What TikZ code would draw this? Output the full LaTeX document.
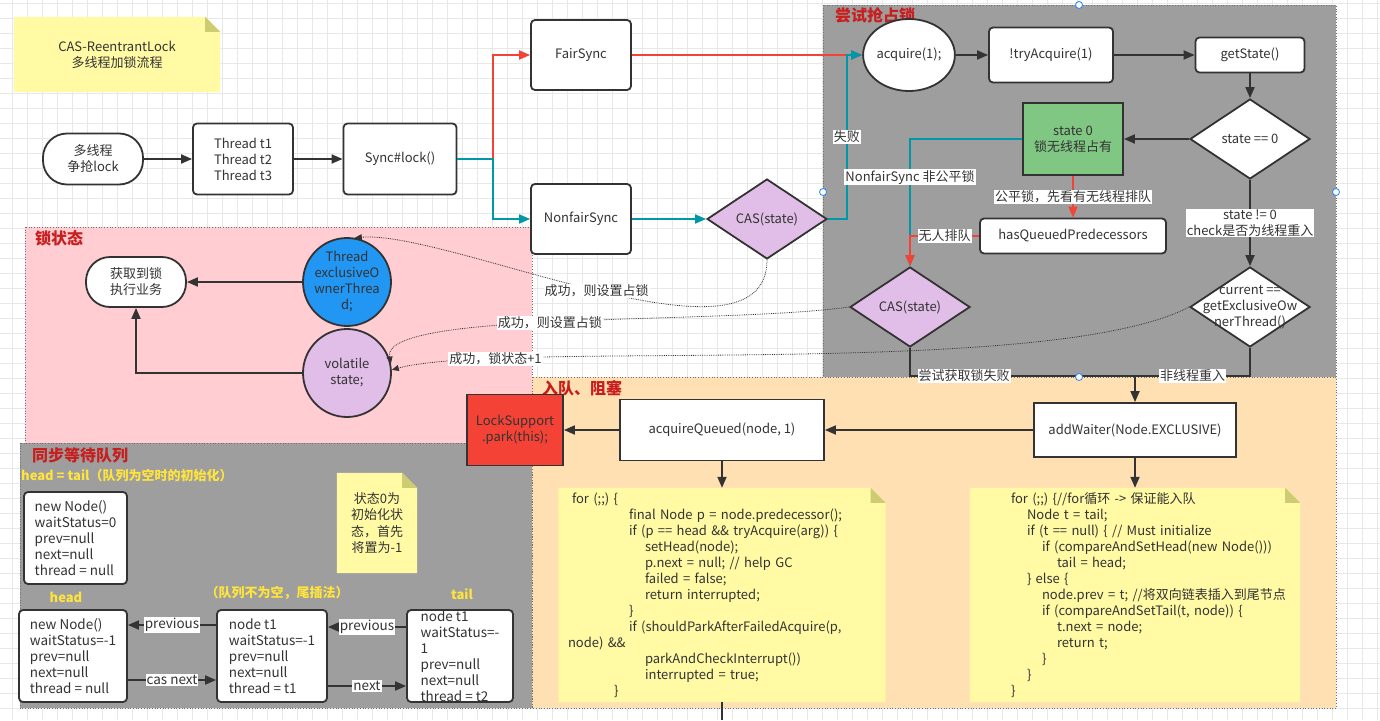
\documentclass[tikz,border=0pt]{standalone}
\usepackage{fontspec}
\setmainfont{Noto Sans CJK SC}
\usetikzlibrary{shapes.geometric, arrows.meta}

\definecolor{edge}{RGB}{51,51,51}
\definecolor{txt}{RGB}{51,51,51}
\definecolor{gridc}{RGB}{232,232,232}
\definecolor{grayc}{RGB}{158,158,158}
\definecolor{pinkc}{RGB}{255,205,210}
\definecolor{peachc}{RGB}{255,224,178}
\definecolor{notefill}{RGB}{255,250,163}
\definecolor{foldfill}{RGB}{206,204,112}
\definecolor{redline}{RGB}{244,67,54}
\definecolor{tealline}{RGB}{0,151,167}
\definecolor{greenbox}{RGB}{129,199,132}
\definecolor{purplebox}{RGB}{225,190,231}
\definecolor{bluebox}{RGB}{33,150,243}
\definecolor{titlered}{RGB}{200,30,30}
\definecolor{qyellow}{RGB}{255,228,60}
\definecolor{handle}{RGB}{41,128,255}

\pgfdeclarelayer{back}
\pgfdeclarelayer{bg}
\pgfsetlayers{back,bg,main}

\begin{document}
\begin{tikzpicture}[
  x=1pt, y=-1pt,
  font=\fontsize{13}{16}\selectfont, text=txt,
  process/.style={rectangle, draw=edge, line width=1.8pt, fill=white, align=center, inner sep=2pt},
  procr/.style={process, rounded corners=4pt},
  startstop/.style={process, rounded corners=24pt},
  decision/.style={diamond, draw=edge, line width=1.8pt, fill=white, minimum width=120pt,
    minimum height=80pt, inner sep=0pt, align=center},
  circ/.style={circle, draw=edge, line width=1.8pt, minimum size=88pt, inner sep=0pt, align=center},
  note/.style={rectangle, inner sep=0pt, align=center},
  codenote/.style={note, align=left},
  qnode/.style={procr, align=left, minimum height=92pt, font=\fontsize{13.5}{16}\selectfont},
  zone/.style={draw=edge!70, dotted, line width=0.7pt},
  zonetitle/.style={anchor=west, inner sep=0pt, text=titlered, font=\fontsize{16}{18}\selectfont\bfseries},
  lbl/.style={fill=white, inner sep=1pt},
  qlbl/.style={inner sep=0pt, text=qyellow, font=\fontsize{13}{16}\selectfont\bfseries},
  arrow/.style={-{Triangle[length=11pt, width=9pt]}, line width=1.8pt, draw=edge},
  link/.style={line width=1.8pt, draw=edge},
  dotarrow/.style={densely dotted, line width=0.8pt, draw=edge, -{Triangle[length=7pt, width=6pt]}}
]
\useasboundingbox (0,0) rectangle (1380,720);

% grid and zones
\begin{pgfonlayer}{back}
\fill[white] (0,0) rectangle (1380,720);
\foreach \x in {12,27,...,1380} \draw[gridc, line width=0.6pt] (\x,0) -- (\x,720);
\foreach \y in {3,18,...,720} \draw[gridc, line width=0.6pt] (0,\y) -- (1380,\y);
\filldraw[zone, fill=grayc] (823,5) rectangle (1336,377);
\filldraw[zone, fill=pinkc] (25,227) rectangle (532,443);
\filldraw[zone, fill=peachc] (532,377) rectangle (1336,708);
\filldraw[zone, fill=grayc] (20,443) rectangle (532,708);
\end{pgfonlayer}

\node (ttry) [zonetitle] at (835,15) {尝试抢占锁};
\node (tstate) [zonetitle] at (35,238) {锁状态};
\node (tqueue) [zonetitle] at (542,388) {入队、阻塞};
\node (twait) [zonetitle] at (32,455) {同步等待队列};

\node (title) [note, minimum width=206pt, minimum height=75pt] at (117,54.5) {CAS-ReentrantLock\\多线程加锁流程};

% entry
\node (start) [startstop, minimum width=100pt, minimum height=51pt] at (93,159) {多线程\\争抢lock};
\node (threads) [procr, minimum width=100pt, minimum height=71pt] at (243,159) {Thread t1\\Thread t2\\Thread t3};
\node (lock) [procr, minimum width=113pt, minimum height=71pt] at (400,159) {Sync\#lock()};
\coordinate (split) at (493,159);
\node (fair) [procr, minimum width=100pt, minimum height=70pt] at (581,55) {FairSync};
\node (nonfair) [procr, minimum width=100pt, minimum height=70pt] at (581,219) {NonfairSync};
\node (cas) [decision, fill=purplebox] at (767,219) {CAS(state)};

% try to take the lock
\node (acquire) [ellipse, draw=edge, line width=1.8pt, fill=white, minimum width=86pt,
  minimum height=72pt, inner sep=0pt] at (909,55) {acquire(1);};
\node (tryacq) [procr, minimum width=124pt, minimum height=55pt] at (1051,55) {!tryAcquire(1)};
\node (getstate) [procr, minimum width=109pt, minimum height=35pt] at (1250,55) {getState()};
\node (stzero) [decision] at (1250,139) {state == 0};
\node (free) [process, fill=greenbox, minimum width=100pt, minimum height=72pt] at (1073,139) {state 0\\锁无线程占有};
\node (hasq) [procr, minimum width=186pt, minimum height=35pt] at (1073,236) {hasQueuedPredecessors};
\node (cas2) [decision, fill=purplebox] at (910,307) {CAS(state)};
\node (owner) [decision, label={[align=center]center:current ==\\getExclusiveOw\\nerThread()}] at (1250,307) {};
\coordinate (merge) at (1135,376);

% lock state
\node (getlock) [startstop, minimum width=100pt, minimum height=50pt] at (136,282) {获取到锁\\执行业务};
\node (owth) [circ, fill=bluebox, label={[align=center]center:Thread\\exclusiveO\\wnerThrea\\d;}] at (347,282) {};
\node (vstate) [circ, fill=purplebox] at (347,373) {volatile\\state;};

% enqueue and block
\node (addw) [process, minimum width=202pt, minimum height=54pt] at (1135,430) {addWaiter(Node.EXCLUSIVE)};
\node (acqq) [process, minimum width=204pt, minimum height=61pt] at (722,430) {acquireQueued(node, 1)};
\node (park) [process, fill=redline, minimum width=96pt, minimum height=71pt] at (515,430) {LockSupport\\.park(this);};
\node (codeq) [codenote, text width=310pt, minimum width=327pt, minimum height=214pt] at (722,595) {%
\hspace*{5pt}for (;;) \{\\
\hspace*{62pt}final Node p = node.predecessor();\\
\hspace*{62pt}if (p == head \&\& tryAcquire(arg)) \{\\
\hspace*{78pt}setHead(node);\\
\hspace*{78pt}p.next = null; // help GC\\
\hspace*{78pt}failed = false;\\
\hspace*{78pt}return interrupted;\\
\hspace*{62pt}\}\\
\hspace*{62pt}if (shouldParkAfterFailedAcquire(p,\\
\hspace*{1pt}node) \&\&\\
\hspace*{78pt}parkAndCheckInterrupt())\\
\hspace*{78pt}interrupted = true;\\
\hspace*{47pt}\}};
\node (codew) [codenote, text width=324pt, minimum width=330pt, minimum height=214pt] at (1135,595) {%
\hspace*{38pt}for (;;) \{//for循环 -> 保证能入队\\
\hspace*{54pt}Node t = tail;\\
\hspace*{54pt}if (t == null) \{ // Must initialize\\
\hspace*{69pt}if (compareAndSetHead(new Node()))\\
\hspace*{84pt}tail = head;\\
\hspace*{54pt}\} else \{\\
\hspace*{69pt}node.prev = t; //将双向链表插入到尾节点\\
\hspace*{69pt}if (compareAndSetTail(t, node)) \{\\
\hspace*{84pt}t.next = node;\\
\hspace*{84pt}return t;\\
\hspace*{69pt}\}\\
\hspace*{54pt}\}\\
\hspace*{38pt}\}};
\coordinate (offpage) at (722,720);

% sync queue
\node (qempty) [qlbl, anchor=west] at (21,476) {head = tail（队列为空时的初始化）};
\node (qinit) [qnode, minimum width=103pt] at (75.5,538) {new Node()\\waitStatus=0\\prev=null\\next=null\\thread = null};
\node (hint) [note, minimum width=80pt, minimum height=100pt, font=\fontsize{13}{16.5}\selectfont] at (377,523) {状态0为\\初始化状\\态，首先\\将置为-1};
\node (qheadlbl) [qlbl] at (66,597) {head};
\node (qmid) [qlbl] at (277,593) {（队列不为空，尾插法）};
\node (qtaillbl) [qlbl] at (462,594) {tail};
\node (qhead) [qnode, minimum width=108pt] at (73,656) {new Node()\\waitStatus=-1\\prev=null\\next=null\\thread = null};
\node (qt1) [qnode, minimum width=110pt] at (272,656) {node t1\\waitStatus=-1\\prev=null\\next=null\\thread = t1};
\node (qtail) [qnode, minimum width=106pt, label={[align=left, font=\fontsize{13.5}{16}\selectfont]center:node t1\\waitStatus=-\\1\\prev=null\\next=null\\thread = t2}] at (460,656) {};

% note bodies with folded corner
\begin{pgfonlayer}{bg}
\foreach \n in {title,hint,codeq,codew} {
  \fill[notefill] (\n.south west) -- (\n.north west) -- ([xshift=-15pt]\n.north east)
    -- ([yshift=-15pt]\n.north east) -- (\n.south east) -- cycle;
  \fill[foldfill] ([xshift=-15pt]\n.north east) -- ([yshift=-15pt]\n.north east)
    -- ([xshift=-15pt, yshift=-15pt]\n.north east) -- cycle;
}
\end{pgfonlayer}

\draw [arrow] (start) -- (threads);
\draw [arrow] (threads) -- (lock);
\draw [arrow, draw=redline] (lock) -- (split) |- (fair);
\draw [arrow, draw=tealline] (lock) -- (split) |- (nonfair);
\draw [arrow, draw=tealline] (nonfair) -- (cas);
\draw [arrow, draw=redline] (fair) -- (acquire);
\draw [arrow, draw=tealline] (cas.east) -- ++(19,0) |- node[lbl, pos=0.25]{失败} (acquire.west);
\draw [arrow] (acquire) -- (tryacq);
\draw [arrow] (tryacq) -- (getstate);
\draw [arrow] (getstate) -- (stzero);
\draw [arrow] (stzero) -- (free);
\draw [arrow, draw=tealline] (free) -| node[lbl, pos=0.65]{NonfairSync 非公平锁} (cas2);
\draw [arrow, draw=redline] (free) -- node[lbl]{公平锁，先看有无线程排队} (hasq);
\draw [arrow, draw=redline] (hasq) -| node[lbl, pos=0.25]{无人排队} (cas2);
\draw [arrow] (stzero) -- node[lbl, align=center]{state != 0\\check是否为线程重入} (owner);
\draw [link] (cas2) |- node[lbl, pos=0.62]{尝试获取锁失败} (merge);
\draw [link] (owner) |- node[lbl, pos=0.75]{非线程重入} (merge);
\draw [arrow] (merge) -- (addw);
\draw [arrow] (addw) -- (acqq);
\draw [arrow] (acqq) -- (park);
\draw [arrow] (acqq) -- (codeq);
\draw [arrow] (addw) -- (codew);
\draw [link] (codeq) -- (offpage);

\draw [arrow] (owth) -- (getlock);
\draw [arrow] (vstate) -| (getlock);

% success paths back to the lock state
\draw [dotarrow] (cas.south) .. controls (767,380) and (450,230) .. node[lbl]{成功，则设置占锁} (owth.80);
\draw [dotarrow] (cas2.west) .. controls (720,325) and (380,310) .. node[lbl, pos=0.53]{成功，则设置占锁} (vstate.12);
\draw [dotarrow] (owner.west) .. controls (1050,380) and (500,340) .. node[lbl, pos=0.81]{成功，锁状态+1} (vstate.4);

\draw [arrow] ([yshift=31pt]qt1.west) -- node[lbl, font=\fontsize{13.5}{16}\selectfont]{previous} ([yshift=31pt]qhead.east);
\draw [arrow] ([yshift=-24pt]qhead.east) -- node[lbl, font=\fontsize{13.5}{16}\selectfont]{cas next} ([yshift=-24pt]qt1.west);
\draw [arrow] ([yshift=29pt]qtail.west) -- node[lbl, font=\fontsize{13.5}{16}\selectfont]{previous} ([yshift=29pt]qt1.east);
\draw [arrow] ([yshift=-30pt]qt1.east) -- node[lbl, font=\fontsize{13.5}{16}\selectfont]{next} ([yshift=-30pt]qtail.west);

\foreach \hx/\hy in {1079/5, 823/192, 1336/192, 1079/377}
  \filldraw[draw=handle, fill=white, line width=0.8pt] (\hx,\hy) circle (3.5pt);
\end{tikzpicture}
\end{document}
